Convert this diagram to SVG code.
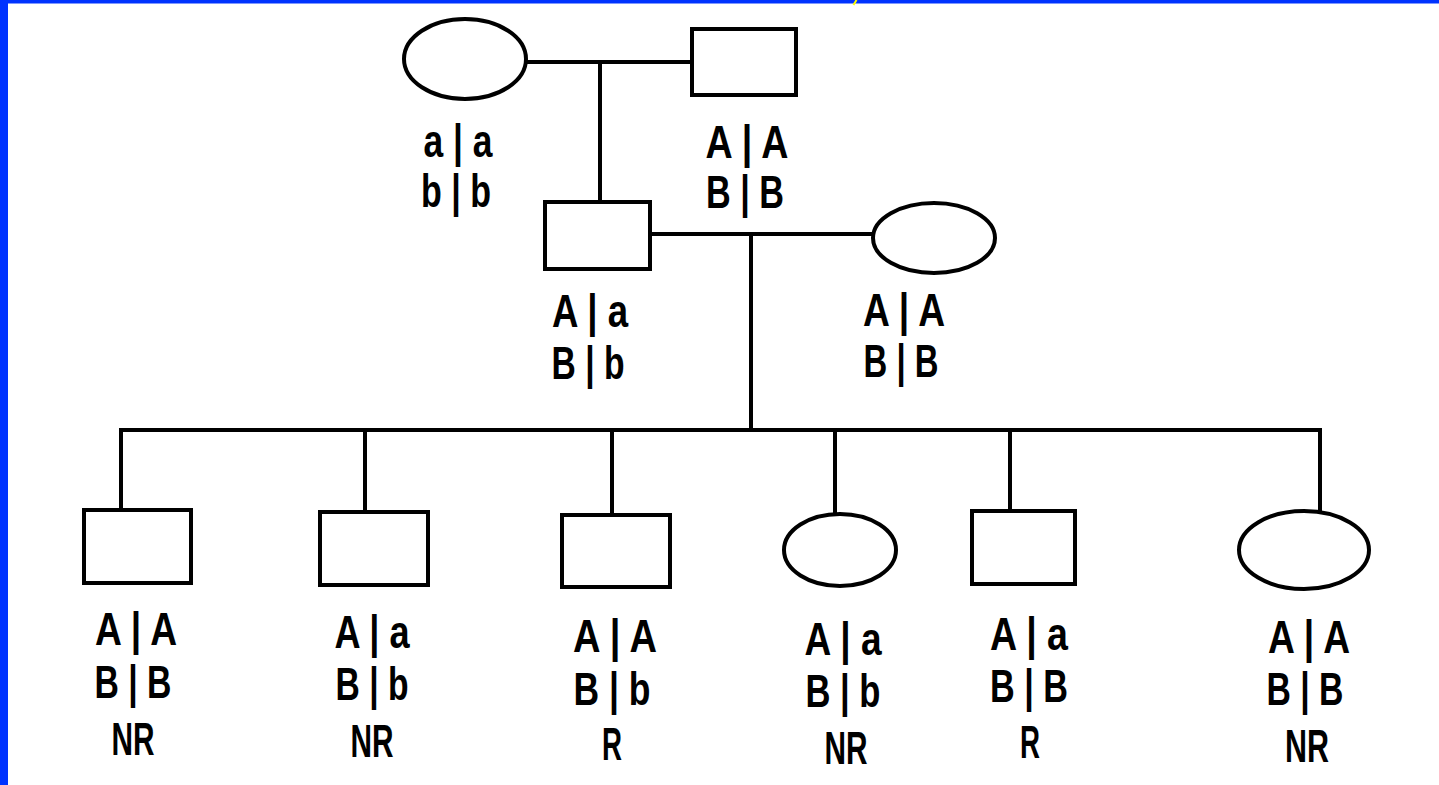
<svg xmlns="http://www.w3.org/2000/svg" width="1439" height="785" viewBox="0 0 1439 785">
<style>
.shape{fill:#fff;stroke:#000;stroke-width:4}
.conn{stroke:#000;stroke-width:4;fill:none;stroke-linecap:square}
.lbl{font-family:"Liberation Sans",Arial,sans-serif;font-weight:bold;font-size:46px;fill:#000;text-anchor:middle}
</style>
<rect x="0" y="0" width="1439" height="785" fill="#fff"/>
<rect x="0" y="0" width="1439" height="3.5" fill="#0033ff"/>
<rect x="0" y="0" width="8" height="785" fill="#0033ff"/>
<line x1="856.5" y1="0" x2="853.5" y2="5" stroke="#ffff00" stroke-width="2"/>
<g id="connectors">
<line class="conn" x1="527" y1="62" x2="690" y2="62"/>
<line class="conn" x1="600" y1="62" x2="600" y2="200"/>
<line class="conn" x1="652" y1="234" x2="872" y2="234"/>
<line class="conn" x1="751" y1="234" x2="751" y2="430"/>
<line class="conn" x1="121" y1="430" x2="1320" y2="430"/>
<line class="conn" x1="121" y1="430" x2="121" y2="508"/>
<line class="conn" x1="365" y1="430" x2="365" y2="510"/>
<line class="conn" x1="612" y1="430" x2="612" y2="513"/>
<line class="conn" x1="835" y1="430" x2="835" y2="513"/>
<line class="conn" x1="1010" y1="430" x2="1010" y2="510"/>
<line class="conn" x1="1320" y1="430" x2="1320" y2="510"/>
</g>
<g id="gp-mother">
<ellipse class="shape" cx="465" cy="59" rx="61" ry="40"/>
<text class="lbl" x="458" y="157" textLength="69" lengthAdjust="spacingAndGlyphs">a | a</text>
<text class="lbl" x="456" y="207" textLength="70" lengthAdjust="spacingAndGlyphs">b | b</text>
</g>
<g id="gp-father">
<rect class="shape" x="692" y="29" width="104" height="66"/>
<text class="lbl" x="747" y="158" textLength="83" lengthAdjust="spacingAndGlyphs">A | A</text>
<text class="lbl" x="745" y="208" textLength="78" lengthAdjust="spacingAndGlyphs">B | B</text>
</g>
<g id="father">
<rect class="shape" x="545" y="202" width="105" height="67"/>
<text class="lbl" x="590" y="327" textLength="76" lengthAdjust="spacingAndGlyphs">A | a</text>
<text class="lbl" x="588" y="379" textLength="73" lengthAdjust="spacingAndGlyphs">B | b</text>
</g>
<g id="mother">
<ellipse class="shape" cx="934" cy="238" rx="61" ry="35"/>
<text class="lbl" x="904" y="326" textLength="82" lengthAdjust="spacingAndGlyphs">A | A</text>
<text class="lbl" x="901" y="377" textLength="75" lengthAdjust="spacingAndGlyphs">B | B</text>
</g>
<g id="child1">
<rect class="shape" x="84" y="510" width="107" height="73"/>
<text class="lbl" x="136" y="645" textLength="82" lengthAdjust="spacingAndGlyphs">A | A</text>
<text class="lbl" x="133" y="698" textLength="77" lengthAdjust="spacingAndGlyphs">B | B</text>
<text class="lbl" x="133" y="755" textLength="43" lengthAdjust="spacingAndGlyphs">NR</text>
</g>
<g id="child2">
<rect class="shape" x="320" y="512" width="108" height="73"/>
<text class="lbl" x="372" y="648" textLength="75" lengthAdjust="spacingAndGlyphs">A | a</text>
<text class="lbl" x="372" y="700" textLength="73" lengthAdjust="spacingAndGlyphs">B | b</text>
<text class="lbl" x="372" y="757" textLength="43" lengthAdjust="spacingAndGlyphs">NR</text>
</g>
<g id="child3">
<rect class="shape" x="562" y="515" width="108" height="72"/>
<text class="lbl" x="615" y="652" textLength="84" lengthAdjust="spacingAndGlyphs">A | A</text>
<text class="lbl" x="612" y="705" textLength="77" lengthAdjust="spacingAndGlyphs">B | b</text>
<text class="lbl" x="612" y="760" textLength="20" lengthAdjust="spacingAndGlyphs">R</text>
</g>
<g id="child4">
<ellipse class="shape" cx="840" cy="550" rx="56" ry="36"/>
<text class="lbl" x="843" y="655" textLength="77" lengthAdjust="spacingAndGlyphs">A | a</text>
<text class="lbl" x="843" y="707" textLength="75" lengthAdjust="spacingAndGlyphs">B | b</text>
<text class="lbl" x="846" y="764" textLength="43" lengthAdjust="spacingAndGlyphs">NR</text>
</g>
<g id="child5">
<rect class="shape" x="972" y="511" width="103" height="73"/>
<text class="lbl" x="1029" y="650" textLength="78" lengthAdjust="spacingAndGlyphs">A | a</text>
<text class="lbl" x="1029" y="702" textLength="78" lengthAdjust="spacingAndGlyphs">B | B</text>
<text class="lbl" x="1030" y="758" textLength="20" lengthAdjust="spacingAndGlyphs">R</text>
</g>
<g id="child6">
<ellipse class="shape" cx="1304" cy="550" rx="65" ry="39"/>
<text class="lbl" x="1309" y="653" textLength="82" lengthAdjust="spacingAndGlyphs">A | A</text>
<text class="lbl" x="1305" y="705" textLength="77" lengthAdjust="spacingAndGlyphs">B | B</text>
<text class="lbl" x="1307" y="762" textLength="44" lengthAdjust="spacingAndGlyphs">NR</text>
</g>
</svg>
